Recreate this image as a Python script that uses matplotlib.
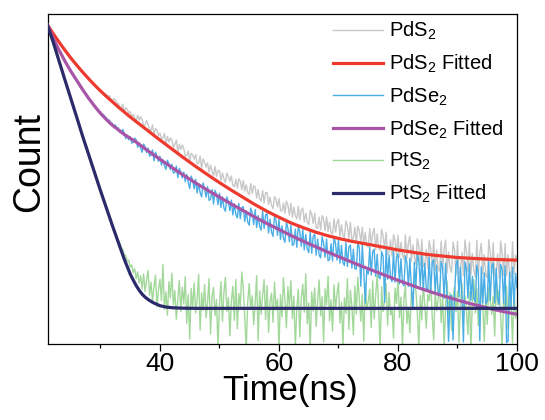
import numpy as np
import matplotlib
matplotlib.use("Agg")
import matplotlib.pyplot as plt
from matplotlib.ticker import MultipleLocator

plt.rcParams['font.family'] = ['Liberation Sans', 'DejaVu Sans']
plt.rcParams['mathtext.fontset'] = 'custom'
plt.rcParams['mathtext.rm'] = 'Liberation Sans'
plt.rcParams['mathtext.it'] = 'Liberation Sans:italic'
plt.rcParams['mathtext.bf'] = 'Liberation Sans:bold'

# ---------------- data ----------------
t_start, t_step = 21.0, 0.25   # measured decay traces: 21.0 ... 100.0 ns

pds2 = [97.0, 96.3, 95.6, 94.9, 94.2, 93.5, 92.9, 92.2, 91.6, 91.0, 90.3, 89.8,
        89.1, 88.5, 87.9, 87.3, 86.7, 86.2, 85.6, 85.0, 84.5, 84.1, 83.4, 83.0,
        82.4, 82.0, 81.3, 80.9, 80.4, 80.0, 79.4, 78.9, 78.5, 78.1, 77.5, 77.2,
        76.7, 76.5, 75.7, 75.5, 75.6, 74.8, 75.3, 74.3, 73.3, 74.4, 73.9, 73.0,
        72.9, 71.8, 71.5, 72.7, 70.3, 71.6, 71.2, 70.0, 70.4, 68.9, 69.6, 68.5,
        67.5, 69.3, 67.8, 68.9, 68.0, 66.1, 66.4, 67.7, 66.5, 65.0, 64.7, 66.4,
        63.4, 65.3, 64.8, 63.1, 63.9, 62.0, 62.5, 63.8, 60.8, 62.9, 61.2, 62.4,
        61.9, 59.5, 60.4, 61.8, 58.2, 60.5, 59.0, 60.3, 59.2, 56.9, 57.1, 58.5,
        55.4, 57.8, 57.3, 56.0, 57.4, 54.6, 54.8, 56.9, 53.2, 56.1, 55.0, 53.6,
        54.9, 52.1, 54.2, 52.4, 51.0, 53.8, 50.7, 52.6, 52.5, 49.6, 51.8, 50.0,
        48.9, 51.8, 50.7, 49.3, 50.9, 48.0, 47.6, 49.9, 47.2, 50.1, 49.3, 46.8,
        49.5, 46.3, 48.2, 46.0, 45.3, 48.6, 45.6, 47.9, 47.6, 44.2, 46.8, 43.9,
        43.4, 46.5, 42.8, 45.9, 45.9, 42.3, 44.5, 42.0, 41.0, 44.6, 43.9, 41.5,
        44.1, 40.5, 40.2, 42.7, 39.6, 43.3, 42.1, 39.0, 42.6, 38.4, 41.5, 38.9,
        37.9, 41.7, 37.6, 40.6, 41.2, 37.0, 39.6, 36.9, 36.2, 40.5, 39.3, 36.5,
        39.6, 35.3, 35.0, 38.4, 34.6, 38.9, 37.8, 34.4, 38.5, 34.0, 36.9, 33.8,
        33.3, 37.9, 33.9, 36.7, 37.8, 32.6, 36.1, 33.0, 32.3, 37.3, 35.8, 31.9,
        36.9, 31.7, 32.0, 35.4, 30.5, 35.7, 34.3, 30.9, 35.4, 30.0, 33.8, 29.6,
        29.4, 35.0, 29.9, 33.6, 35.1, 28.6, 33.4, 29.0, 28.3, 34.8, 32.7, 28.9,
        33.9, 27.1, 27.8, 31.6, 26.6, 33.2, 31.4, 26.9, 33.0, 26.2, 30.8, 27.0,
        25.6, 33.1, 26.0, 30.7, 32.7, 25.1, 30.0, 26.3, 24.2, 31.9, 29.5, 23.8,
        31.6, 23.5, 24.1, 28.7, 22.9, 31.3, 28.9, 23.6, 31.6, 22.3, 28.5, 23.0,
        21.9, 31.2, 22.6, 28.8, 31.5, 21.5, 27.9, 23.1, 21.7, 30.9, 28.4, 20.9,
        31.1, 21.0, 22.5, 27.8, 20.7, 31.5, 28.0, 21.8, 30.8, 20.9, 27.5, 22.2,
        20.3, 31.4, 21.0, 27.7, 30.5, 21.2, 27.1, 20.6, 20.1, 31.6, 27.9, 21.4,
        30.7, 20.5, 21.1, 27.3, 19.9, 31.2, 27.6, 20.8, 30.4, 20.6, 27.0, 21.5,
        20.0, 31.0, 21.3, 26.9, 26.0]

pdse2 = [97.0, 95.9, 94.9, 93.9, 92.9, 91.9, 91.0, 90.1, 89.2, 88.4, 87.5, 86.7,
         85.8, 85.1, 84.2, 83.5, 82.7, 82.1, 81.2, 80.6, 79.9, 79.3, 78.4, 77.8,
         77.1, 76.6, 75.7, 75.2, 74.5, 74.0, 73.1, 72.8, 72.1, 71.7, 70.9, 70.6,
         70.3, 69.2, 69.6, 68.7, 68.6, 67.3, 67.9, 66.8, 66.9, 65.6, 66.4, 65.3,
         65.5, 64.1, 64.2, 65.0, 63.9, 62.2, 63.3, 61.9, 62.8, 60.9, 61.1, 62.4,
         61.9, 59.6, 60.9, 59.4, 58.1, 60.6, 59.8, 58.0, 59.4, 56.9, 57.2, 58.8,
         55.5, 58.1, 56.9, 55.3, 56.9, 54.2, 55.8, 54.1, 52.9, 55.7, 54.6, 52.8,
         54.5, 51.8, 52.0, 53.9, 50.4, 53.2, 52.2, 50.3, 52.1, 49.2, 51.4, 49.0,
         47.1, 50.9, 49.6, 47.0, 49.9, 45.8, 48.6, 45.9, 44.6, 48.8, 47.1, 44.5,
         47.7, 43.5, 43.9, 46.8, 42.4, 46.6, 45.3, 42.2, 45.7, 41.4, 44.6, 41.2,
         40.2, 44.6, 43.0, 40.4, 43.6, 39.1, 42.5, 39.3, 38.2, 42.6, 38.0, 41.3,
         41.6, 37.1, 40.3, 37.0, 36.0, 41.2, 39.7, 36.2, 40.7, 35.3, 38.9, 35.6,
         34.5, 40.3, 35.0, 39.1, 39.5, 33.6, 37.8, 33.9, 32.6, 38.7, 37.4, 32.9,
         37.8, 31.7, 35.8, 32.0, 30.8, 36.9, 35.1, 31.0, 36.0, 29.9, 30.2, 34.8,
         29.3, 35.8, 34.0, 29.6, 34.9, 28.5, 33.2, 28.8, 27.7, 34.1, 27.5, 32.6,
         33.3, 26.9, 31.8, 27.0, 26.1, 32.5, 30.6, 26.3, 31.8, 25.2, 25.6, 30.4,
         25.2, 32.3, 30.6, 25.4, 31.5, 24.5, 29.9, 24.7, 23.8, 30.8, 23.5, 29.4,
         30.0, 23.0, 28.7, 22.8, 22.7, 30.8, 29.1, 17.5, 30.1, 21.9, 12.4, 22.4,
         21.2, 29.4, 20.9, 28.0, 28.7, 20.5, 27.2, 20.3, 19.8, 28.0, 26.6, 12.6,
         28.7, 19.6, 27.0, 19.9, 18.9, 28.1, 18.7, 26.4, 27.3, 18.2, 25.9, 18.5,
         17.6, 26.7, 24.6, 17.4, 26.0, 16.9, 10.5, 24.8, 17.3, 27.4, 25.1, 17.6,
         26.8, 16.6, 24.5, 16.9, 16.0, 26.2, 15.8, 24.7, 25.5, 15.4, 23.9, 15.1,
         14.9, 25.0, 23.2, 13.8, 24.5, 14.3, 0.8, 14.6, 14.8, 1.2, 14.5, 24.0,
         25.4, 14.2, 23.3, 14.0, 0.6, 24.9, 22.8, 13.9, 24.3, 13.2, 20.5, 13.6,
         12.8, 23.9, 21.7, 1.0, 23.4, 12.4, 21.5, 12.1, 12.9, 25.0, 13.1, 23.6,
         24.5, 12.4, 22.9, 13.8, 12.0, 24.1, 22.6, 12.3, 23.7, 0.4, 0.9, 21.8,
         11.3, 23.3, 11.5, 21.4, 17.0]

pts2 = [97.0, 95.6, 94.2, 92.8, 91.4, 90.0, 88.5, 87.0, 85.5, 84.1, 82.6, 81.1,
        79.7, 78.2, 76.8, 75.3, 73.9, 72.5, 70.9, 69.6, 68.1, 66.8, 65.2, 63.9,
        62.3, 61.0, 59.5, 58.3, 56.8, 55.5, 54.0, 52.9, 51.3, 50.1, 48.6, 47.5,
        45.9, 44.8, 43.3, 42.2, 40.7, 39.7, 38.3, 37.4, 35.8, 34.9, 33.5, 32.8,
        31.4, 30.6, 29.2, 28.6, 27.2, 26.8, 25.1, 25.4, 23.3, 24.0, 21.6, 22.8,
        19.8, 21.9, 18.5, 20.6, 16.7, 21.2, 15.9, 19.4, 22.3, 14.8, 18.7, 12.6,
        17.5, 20.9, 11.3, 16.4, 19.6, 13.2, 24.1, 10.5, 15.8, 8.7, 18.9, 14.0,
        21.5, 11.9, 16.2, 7.5, 13.6, 19.3, 9.8, 17.2, 12.1, 20.4, 6.3, 14.9,
        1.5, 16.8, 11.0, 18.5, 9.4, 13.7, 21.1, 4.2, 15.5, 10.2, 18.0, 7.9,
        12.7, 19.8, 3.0, 14.4, 17.1, 8.6, 13.5, -0.8, 11.6, 18.9, 6.8, 15.7,
        20.2, 9.9, 14.1, 2.5, 13.0, 17.5, 7.2, 19.6, 4.6, 15.3, 11.4, 21.8,
        16.9, 8.1, -1.5, 12.8, 18.3, 10.7, 14.6, 5.9, 12.2, 20.7, 1.0, 16.1,
        9.0, 14.8, 19.5, 7.4, 17.7, 3.5, 12.9, 15.4, 6.6, 18.8, 10.3, 13.6,
        -1.8, 15.0, 8.2, 20.1, 13.3, 4.9, 17.4, 11.1, 19.2, 7.7, 14.5, -0.6,
        10.8, 16.6, 2.2, 13.9, 18.1, 9.6, 21.3, 6.1, 12.4, -1.2, 15.8, 10.0,
        17.0, 5.3, 13.1, 19.4, 8.5, 14.3, 0.6, 16.7, 11.8, 20.5, 7.0, 13.4,
        3.9, 17.9, 10.6, 15.2, 18.6, 6.4, 12.6, -0.4, 14.0, 9.3, 19.8, 4.4,
        16.3, 11.5, 2.8, 17.6, 9.1, 20.2, 13.8, 6.9, 15.1, 0.9, 18.4, 10.4,
        12.9, 16.6, 5.0, 19.1, 7.6, 14.7, 21.0, 11.2, -1.6, 17.4, 9.8, 13.2,
        18.2, 5.7, 15.6, 8.8, 11.0, 1.8, 16.9, 12.3, 19.7, 8.0, 14.2, -0.9,
        13.6, 17.8, 6.2, 10.9, 3.4, 15.9, 12.0, 20.0, 16.4, 9.5, -1.1, 14.7,
        7.3, 18.7, 11.7, 4.8, 15.0, 13.1, 19.4, 8.3, 1.2, 16.2, 10.1, 13.5,
        17.8, 6.5, 14.9, -0.7, 11.4, 19.0, 8.7, 15.5, 4.1, 13.8, 17.3, 9.8,
        16.0, 0.5, 12.4, 18.5, 7.1, 14.6, 10.3, 2.9, 15.8, -1.7, 13.0, 19.6,
        9.4, 16.9, 5.6, 12.2, 18.0, 11.5, 0.8, 14.8, 6.0, 17.2, 13.3, 9.0,
        14.4, 2.4, 18.8, 11.9, 16.5, 8.4, -1.3, 13.7, 10.6, 17.5, 4.5, 15.3,
        12.8, 0.3, 16.4, 7.8, 10.2]

# fitted curves
pds2_fit_t = [21, 22, 23, 24, 25, 26, 27, 28, 29, 30, 31, 32, 33, 34, 35, 36,
              38, 40, 42, 44, 46, 48, 50, 52, 54, 56, 58, 60, 62, 64, 66, 68,
              70, 72, 75, 80, 85, 90, 95, 100]
pds2_fit = [97.0, 94.2, 91.6, 89.1, 86.7, 84.5, 82.4, 80.4, 78.5, 76.7, 75.0,
            73.4, 71.8, 70.3, 68.8, 67.4, 64.6, 61.8, 59.1, 56.4, 53.8, 51.3,
            48.9, 46.6, 44.4, 42.2, 40.2, 38.4, 36.7, 35.3, 34.0, 32.9, 32.0,
            31.2, 30.2, 28.5, 27.1, 26.2, 25.7, 25.4]

pdse2_fit_t = [21, 22, 23, 24, 25, 26, 27, 28, 29, 30, 31, 32, 34, 36, 38, 40,
               42, 44, 46, 48, 50, 52, 54, 56, 58, 60, 62, 64, 66, 68, 70, 72,
               74, 76, 78, 80, 82, 84, 86, 88, 90, 92, 94, 96, 98, 100]
pdse2_fit = [97.0, 92.9, 89.2, 85.8, 82.7, 79.9, 77.1, 74.5, 72.1, 69.9, 68.0,
             66.3, 63.5, 61.2, 58.5, 56.0, 53.5, 51.1, 48.8, 46.6, 44.5, 42.4,
             40.4, 38.4, 36.5, 34.7, 32.9, 31.2, 29.6, 28.0, 26.5, 25.0, 23.5,
             22.1, 20.7, 19.3, 18.0, 16.7, 15.5, 14.4, 13.3, 12.3, 11.4, 10.5,
             9.7, 9.0]

pts2_fit_t = [21, 22, 23, 24, 25, 26, 27, 28, 29, 30, 31, 32, 33, 34, 35, 35.5,
              36, 36.5, 37, 37.5, 38, 38.5, 39, 40, 41, 42, 43, 44, 46, 50, 100]
pts2_fit = [97.0, 91.8, 86.0, 80.2, 74.5, 68.8, 63.0, 57.5, 52.0, 46.5, 41.2,
            35.9, 30.8, 25.7, 21.2, 19.4, 17.7, 16.3, 15.1, 14.2, 13.5, 12.9,
            12.4, 11.6, 11.2, 11.0, 10.9, 10.85, 10.8, 10.8, 10.8]

labels = ['PdS$_2$', 'PdS$_2$ Fitted', 'PdSe$_2$', 'PdSe$_2$ Fitted',
          'PtS$_2$', 'PtS$_2$ Fitted']
colors = ['#c8c8c8', '#ee3a2e', '#4aaee6', '#a855a8', '#a3d89b', '#2b2a6b']
xticks = [40, 60, 80, 100]

assert len(pds2) == len(pdse2) == len(pts2) == 317, (len(pds2), len(pdse2), len(pts2))
t = t_start + t_step * np.arange(len(pds2))

# ---------------- figure ----------------
fig = plt.figure(figsize=(5.45, 4.2), dpi=100)
ax = fig.add_axes([47.5 / 545, 76 / 420, 469.5 / 545, 330 / 420])

h_pts2, = ax.plot(t, pts2, color=colors[4], lw=1.0, zorder=1, label=labels[4])
h_pds2, = ax.plot(t, pds2, color=colors[0], lw=1.0, zorder=1.5, label=labels[0])
h_pdse2, = ax.plot(t, pdse2, color=colors[2], lw=1.0, zorder=2, label=labels[2])
h_pds2f, = ax.plot(pds2_fit_t, pds2_fit, color=colors[1], lw=2.3, zorder=3,
                   label=labels[1])
h_pdse2f, = ax.plot(pdse2_fit_t, pdse2_fit, color=colors[3], lw=2.3, zorder=3,
                    label=labels[3])
h_pts2f, = ax.plot(pts2_fit_t, pts2_fit, color=colors[5], lw=2.3, zorder=3,
                   label=labels[5])

ax.set_xlim(21.1, 100)
ax.set_ylim(0, 100)
ax.set_xticks(xticks)
ax.xaxis.set_minor_locator(MultipleLocator(10))
ax.set_yticks([])
ax.tick_params(axis='x', which='major', direction='out', length=5, width=0.9,
               labelsize=19, pad=1.0, top=False)
ax.tick_params(axis='x', which='minor', direction='out', length=3, width=0.9,
               top=False)
for s in ax.spines.values():
    s.set_linewidth(0.9)
    s.set_color('black')

fig.text(290 / 545, (420 - 400) / 420, 'Time(ns)', fontsize=25,
         ha='center', va='baseline')
fig.text(29 / 545, 1 - 162.5 / 420, 'Count', fontsize=27, rotation=90,
         ha='center', va='center')

leg = ax.legend([h_pds2, h_pds2f, h_pdse2, h_pdse2f, h_pts2, h_pts2f], labels,
                loc='upper left', bbox_to_anchor=(333 / 545, 1 - 20 / 420),
                bbox_transform=fig.transFigure, frameon=False, fontsize=14.5,
                handlelength=2.5, handletextpad=0.3, labelspacing=0.52,
                borderpad=0, borderaxespad=0)

fig.savefig('out.png', dpi=100)
